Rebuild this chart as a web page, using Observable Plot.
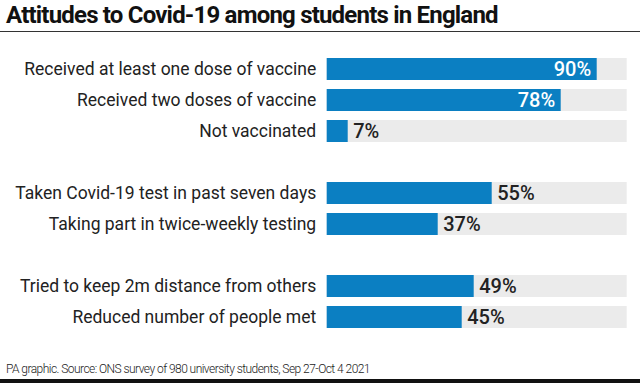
<!DOCTYPE html>
<html>
<head>
<meta charset="utf-8">
<script src="https://cdn.jsdelivr.net/npm/d3@7"></script>
<script src="https://cdn.jsdelivr.net/npm/@observablehq/plot@0.6"></script>
<style>
  html, body { margin: 0; padding: 0; background: #fff; }
  body { width: 640px; height: 383px; overflow: hidden; font-family: Roboto, "Noto Sans", sans-serif; }
  #title { height: 31px; border-bottom: 1.5px solid #333; font-size: 24px; line-height: 31px; font-weight: 700; color: #111; padding-left: 6px; letter-spacing: -0.8px; white-space: nowrap; }
  #footer { height: 18.5px; padding-top: 8px; border-bottom: 4px solid #111; font-size: 12px; font-weight: 300; color: #222; padding-left: 6px; line-height: 18px; letter-spacing: -0.55px; white-space: nowrap; }
  svg { display: block; }
</style>
</head>
<body>
<div id="title">Attitudes to Covid-19 among students in England</div>
<div id="chart"></div>
<div id="footer">PA graphic. Source: ONS survey of 980 university students, Sep 27-Oct 4 2021</div>
<script>
const categories = [
  "Received at least one dose of vaccine",
  "Received two doses of vaccine",
  "Not vaccinated",
  "",
  "Taken Covid-19 test in past seven days",
  "Taking part in twice-weekly testing",
  " ",
  "Tried to keep 2m distance from others",
  "Reduced number of people met"
];
const values = [90, 78, 7, null, 55, 37, null, 49, 45];

const rows = categories.map((c, i) => ({category: c, value: values[i]})).filter(d => d.value != null);

const chart = Plot.plot({
  width: 640,
  height: 320,
  marginLeft: 326.7,
  marginRight: 13.3,
  marginTop: 15,
  marginBottom: 13,
  style: {fontFamily: "Roboto, sans-serif", background: "transparent"},
  x: {domain: [0, 100], axis: null},
  y: {domain: categories, padding: 0.3, label: null},
  marks: [
    Plot.axisY({tickSize: 0, tickPadding: 11, fontSize: 17.5, fontWeight: 400, fill: "#222", label: null}),
    Plot.barX(rows, {y: "category", x: 100, fill: "#ebebeb"}),
    Plot.barX(rows, {y: "category", x: "value", fill: "#0b7fc2"}),
    Plot.text(rows.filter(d => d.value >= 70), {y: "category", x: "value", text: d => d.value + "%", textAnchor: "end", dx: -6, fill: "white", fontSize: 20, fontWeight: 500}),
    Plot.text(rows.filter(d => d.value < 70), {y: "category", x: "value", text: d => d.value + "%", textAnchor: "start", dx: 5, fill: "#222", fontSize: 20, fontWeight: 500})
  ]
});
document.getElementById("chart").appendChild(chart);
</script>
</body>
</html>
